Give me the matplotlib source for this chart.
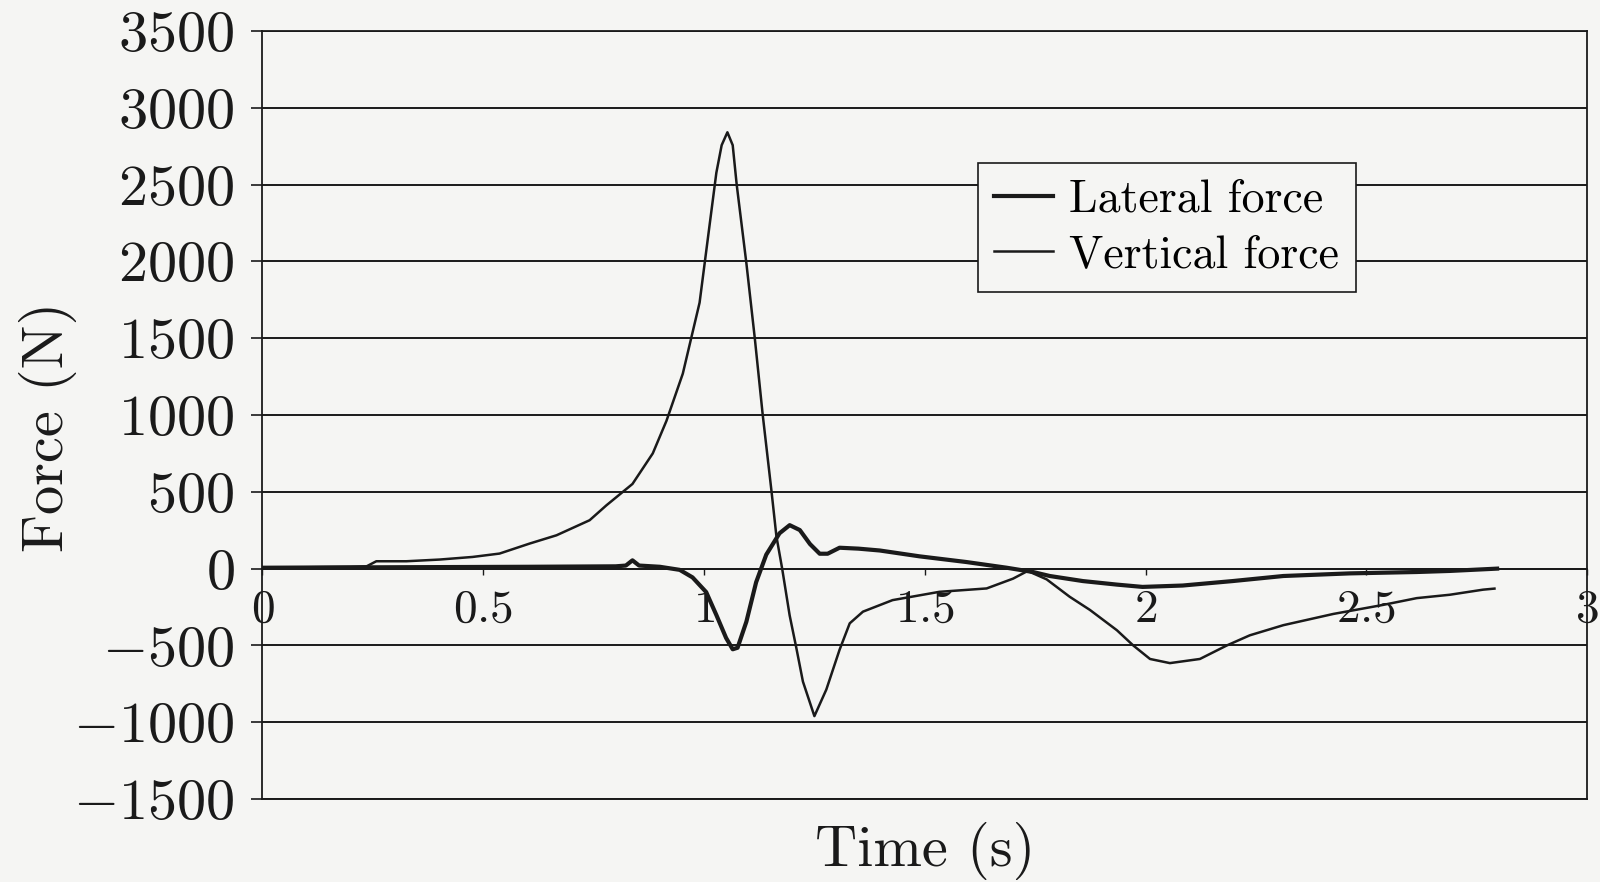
import matplotlib
matplotlib.use("Agg")
import matplotlib.pyplot as plt

# values
t_lateral = [0, 0.2, 0.4, 0.6, 0.8, 0.823, 0.838, 0.853, 0.9, 0.945, 0.974,
             1.005, 1.028, 1.05, 1.065, 1.076, 1.096, 1.118, 1.141, 1.171,
             1.194, 1.217, 1.24, 1.262, 1.28, 1.307, 1.35, 1.398, 1.488,
             1.594, 1.685, 1.745, 1.783, 1.858, 1.935, 1.993, 2.084, 2.197,
             2.312, 2.462, 2.614, 2.689, 2.796]
lateral_force = [5, 8, 10, 12, 15, 20, 54, 20, 12, -8, -57, -153, -302, -451,
                 -525, -515, -345, -89, 91, 230, 283, 251, 160, 97, 97, 136,
                 130, 118, 80, 43, 6, -22, -48, -81, -104, -119, -110, -81,
                 -48, -31, -22, -15, 0]

t_vertical = [0, 0.1, 0.2, 0.236, 0.258, 0.326, 0.401, 0.476, 0.537, 0.605,
              0.666, 0.741, 0.779, 0.838, 0.884, 0.915, 0.952, 0.99, 1.013,
              1.028, 1.04, 1.053, 1.065, 1.074, 1.096, 1.115, 1.133, 1.153,
              1.164, 1.177, 1.194, 1.209, 1.224, 1.25, 1.277, 1.307, 1.33,
              1.36, 1.427, 1.533, 1.64, 1.70, 1.733, 1.776, 1.828, 1.874,
              1.935, 1.972, 2.01, 2.055, 2.123, 2.184, 2.236, 2.312, 2.425,
              2.538, 2.614, 2.689, 2.764, 2.79]
vertical_force = [10, 10, 12, 15, 48, 48, 59, 76, 98, 163, 217, 315, 412, 551,
                  750, 962, 1269, 1731, 2244, 2577, 2756, 2840, 2756, 2500,
                  1987, 1500, 1000, 500, 210, 0, -305, -515, -735, -960, -787,
                  -528, -356, -280, -205, -151, -129, -65, -15, -70, -183,
                  -269, -401, -500, -588, -615, -588, -500, -434, -368, -295,
                  -236, -192, -170, -137, -130]

x_ticks = [0, 0.5, 1, 1.5, 2, 2.5, 3]
x_tick_labels = ["0", "0.5", "1", "1.5", "2", "2.5", "3"]
y_ticks = [-1500, -1000, -500, 0, 500, 1000, 1500, 2000, 2500, 3000, 3500]

PAPER = "#f5f5f3"
INK = "#1a1a1a"

plt.rcParams["mathtext.fontset"] = "cm"
plt.rcParams["font.family"] = ["cmr10", "DejaVu Serif"]

fig = plt.figure(figsize=(16, 8.82), dpi=100, facecolor=PAPER)
ax = fig.add_axes([0.164, 0.094, 0.828, 0.871], facecolor=PAPER)

ax.plot(t_lateral, lateral_force, color=INK, lw=3.0, label="Lateral force")
ax.plot(t_vertical, vertical_force, color=INK, lw=1.8, label="Vertical force")

ax.set_xlim(0, 3)
ax.set_ylim(-1500, 3500)

ax.set_yticks(y_ticks, labels=[f"${v}$" for v in y_ticks])
ax.set_xticks(x_ticks, labels=[f"${s}$" for s in x_tick_labels])
ax.tick_params(axis="y", labelsize=42, length=8, width=1.2, pad=12, colors=INK)
ax.tick_params(axis="x", labelsize=34, length=4, width=1.0, pad=11,
               direction="out", colors=INK)

ax.set_axisbelow(True)
ax.grid(axis="y", color=INK, lw=1.4)
ax.axhline(-1500, color=INK, lw=1.4, clip_on=False)

ax.spines["bottom"].set_position(("data", 0))
for name in ["bottom", "left", "right", "top"]:
    ax.spines[name].set_color(INK)
    ax.spines[name].set_linewidth(1.3)

leg = ax.legend(loc="upper left", bbox_to_anchor=(0.540, 0.828),
                borderaxespad=0, fontsize=33, frameon=True, fancybox=False,
                handlelength=1.3, handletextpad=0.35, borderpad=0.35,
                labelspacing=0.3)
leg.get_frame().set_edgecolor(INK)
leg.get_frame().set_facecolor(PAPER)
leg.get_frame().set_alpha(1)
leg.get_frame().set_linewidth(1.2)

fig.text(0.578, 0.035, "Time (s)", fontsize=42, ha="center", va="center",
         color=INK)
fig.text(0.030, 0.516, "Force (N)", fontsize=42, ha="center", va="center",
         rotation=90, color=INK)

fig.savefig("out.png", dpi=100, facecolor=PAPER)
